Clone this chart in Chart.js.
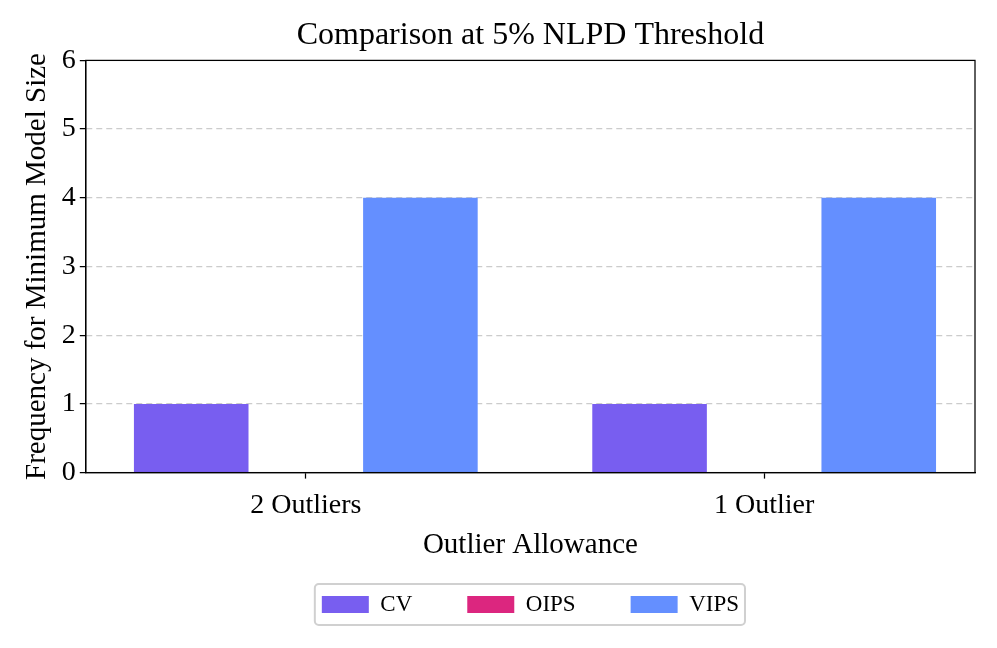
<!DOCTYPE html>
<html lang="en">
  <head>
    <meta charset="UTF-8" />
    <title>Comparison at 5% NLPD Threshold</title>
    <script src="https://cdn.jsdelivr.net/npm/chart.js"></script>
    <style>
      body { margin: 0; background: #fff; }
    </style>
  </head>
  <body>
    <canvas id="myChart" width="997" height="648"></canvas>

    <script>
      const categories = ["2 Outliers", "1 Outlier"];
      const cvValues = [1, 1];
      const oipsValues = [0, 0];
      const vipsValues = [4, 4];
      const yTicks = [0, 1, 2, 3, 4, 5, 6];

      const serif = "'Liberation Serif', 'Times New Roman', serif";

      // boxed frame + legend border, like matplotlib
      const framePlugin = {
        id: "frame",
        afterDraw(chart) {
          const { ctx, chartArea: a, legend } = chart;
          ctx.save();
          ctx.strokeStyle = "#000";
          ctx.lineWidth = 1.25;
          ctx.strokeRect(a.left, a.top, a.right - a.left, a.bottom - a.top);
          if (legend && legend.legendHitBoxes.length) {
            const boxes = legend.legendHitBoxes;
            const left = boxes[0].left - 7;
            const last = boxes[boxes.length - 1];
            const right = last.left + last.width + 6;
            const top = boxes[0].top - 9;
            const bottom = boxes[0].top + boxes[0].height + 9;
            ctx.strokeStyle = "#d0d0d0";
            ctx.lineWidth = 2;
            ctx.beginPath();
            ctx.roundRect(left, top, right - left, bottom - top, 4);
            ctx.stroke();
          }
          ctx.restore();
        },
      };

      const ctx = document.getElementById("myChart").getContext("2d");
      new Chart(ctx, {
        type: "bar",
        data: {
          datasets: [
            { label: "CV", data: cvValues.map((v, i) => ({ x: i, y: v })), backgroundColor: "#785EF0" },
            { label: "OIPS", data: oipsValues.map((v, i) => ({ x: i, y: v })), backgroundColor: "#DC267F" },
            { label: "VIPS", data: vipsValues.map((v, i) => ({ x: i, y: v })), backgroundColor: "#648FFF" },
          ],
        },
        plugins: [framePlugin],
        options: {
          responsive: false,
          animation: false,
          categoryPercentage: 0.75,
          barPercentage: 1.0,
          layout: { padding: { left: 20, right: 22, top: 0, bottom: 22 } },
          plugins: {
            title: {
              display: true,
              fullSize: false,
              text: "Comparison at 5% NLPD Threshold",
              color: "#000",
              font: { family: serif, size: 32, weight: "normal" },
              padding: { top: 16, bottom: 6 },
            },
            legend: {
              position: "bottom",
              fullSize: false,
              labels: {
                color: "#000",
                font: { family: serif, size: 23 },
                boxWidth: 47,
                boxHeight: 17,
                padding: 55,
              },
            },
            tooltip: { enabled: false },
          },
          scales: {
            x: {
              type: "linear",
              offset: false,
              min: -0.48,
              max: 1.46,
              afterBuildTicks: (axis) => {
                axis.ticks = categories.map((c, i) => ({ value: i }));
              },
              ticks: {
                color: "#000",
                font: { family: serif, size: 28 },
                callback: (v) => categories[v],
                padding: 10,
                maxRotation: 0,
              },
              grid: { offset: false, drawOnChartArea: false, drawTicks: true, tickLength: 6, tickColor: "#000", tickWidth: 1.25 },
              border: { color: "#000", width: 1.25 },
              title: {
                display: true,
                text: "Outlier Allowance",
                color: "#000",
                font: { family: serif, size: 29 },
                padding: { top: -4, bottom: -25 },
              },
            },
            y: {
              min: 0,
              max: 6,
              afterBuildTicks: (axis) => {
                axis.ticks = yTicks.map((v) => ({ value: v }));
              },
              ticks: {
                color: "#000",
                font: { family: serif, size: 28 },
                padding: 4,
              },
              grid: {
                color: (c) => (c.tick && c.tick.value > 0 && c.tick.value < 6 ? "#cccccc" : "rgba(0,0,0,0)"),
                lineWidth: 1.25,
                tickLength: 6,
                tickColor: "#000",
                tickWidth: 1.25,
              },
              border: { color: "#000", width: 1.25, dash: [6, 4] },
              title: {
                display: true,
                text: "Frequency for Minimum Model Size",
                color: "#000",
                font: { family: serif, size: 29 },
                padding: { top: 0, bottom: 3 },
              },
            },
          },
        },
      });
    </script>
  </body>
</html>
